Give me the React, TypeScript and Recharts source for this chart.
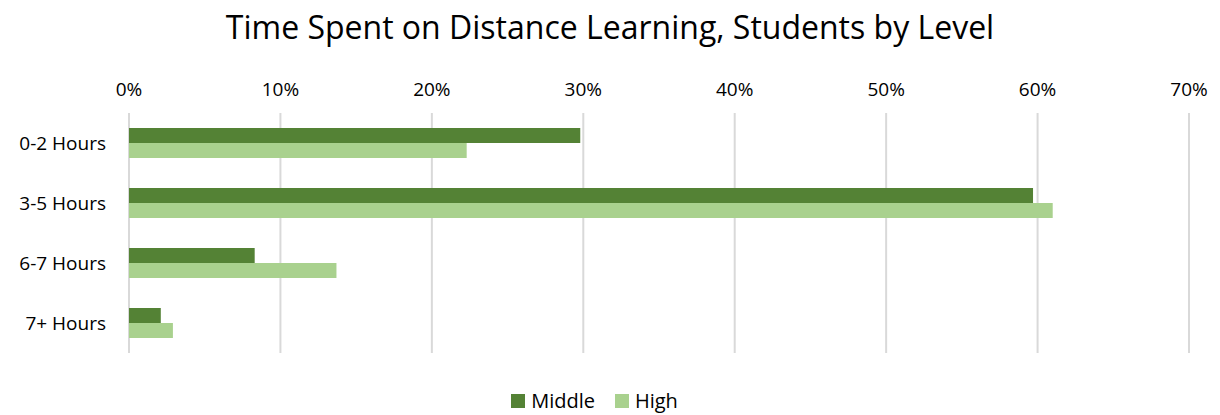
import { BarChart, Bar, XAxis, YAxis, CartesianGrid, Legend } from "recharts";

const categories = ["0-2 Hours", "3-5 Hours", "6-7 Hours", "7+ Hours"];
const middleValues = [29.8, 59.7, 8.3, 2.1];
const highValues = [22.3, 61.0, 13.7, 2.9];
const xTicks = [0, 10, 20, 30, 40, 50, 60, 70];
const seriesOrder = ["Middle", "High"];

const data = categories.map((label, i) => ({
  label,
  Middle: middleValues[i],
  High: highValues[i],
}));

const FONT = "'Open Sans', Lato, sans-serif";

// keep legend in series order (recharts sorts by name otherwise)
const renderLegend = (props: any) => {
  const items = [...(props.payload || [])].sort(
    (a: any, b: any) => seriesOrder.indexOf(a.value) - seriesOrder.indexOf(b.value)
  );
  return (
    <div style={{ display: "flex", justifyContent: "center", alignItems: "center", height: 24 }}>
      {items.map((it: any) => (
        <div key={it.value} style={{ display: "flex", alignItems: "center", margin: "0 10px" }}>
          <span style={{ width: 14, height: 14, background: it.color, display: "inline-block", marginRight: 6 }} />
          <span style={{ fontSize: 20, lineHeight: "24px", color: "#000", fontFamily: FONT }}>{it.value}</span>
        </div>
      ))}
    </div>
  );
};

export default function App() {
  return (
    <div style={{ position: "absolute", left: 0, top: 0, width: 1220, height: 415, background: "#fff", fontFamily: FONT }}>
      <div
        style={{
          position: "absolute", top: 6, left: 0, width: 1220, textAlign: "center",
          fontSize: 32, color: "#000", fontFamily: FONT, lineHeight: "42px",
        }}
      >
        Time Spent on Distance Learning, Students by Level
      </div>
      <BarChart
        width={1220}
        height={415}
        data={data}
        layout="vertical"
        barGap={0}
        barCategoryGap={15}
        margin={{ top: 73, right: 31, bottom: 38, left: 0 }}
      >
        <CartesianGrid horizontal={false} stroke="#d9d9d9" strokeWidth={2} />
        <XAxis
          type="number"
          orientation="top"
          domain={[0, 70]}
          ticks={xTicks}
          tickFormatter={(v: number) => `${v}%`}
          axisLine={false}
          tickLine={false}
          height={40}
          tickMargin={11}
          tick={{ fontSize: 19, fill: "#000", fontFamily: FONT }}
        />
        <YAxis
          type="category"
          dataKey="label"
          width={129}
          axisLine={false}
          tickLine={false}
          tickMargin={17}
          tick={{ fontSize: 19, fill: "#000", fontFamily: FONT }}
        />
        <Legend
          verticalAlign="bottom"
          content={renderLegend}
          wrapperStyle={{ height: 24, top: 389 }}
        />
        <Bar dataKey="Middle" fill="#548235" barSize={15} isAnimationActive={false} />
        <Bar dataKey="High" fill="#A9D18E" barSize={15} isAnimationActive={false} />
      </BarChart>
    </div>
  );
}
